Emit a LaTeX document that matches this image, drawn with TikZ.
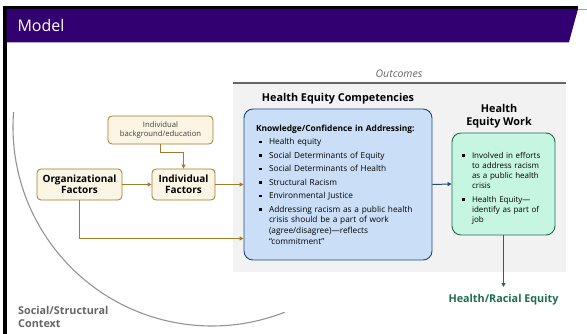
\documentclass[tikz,border=0pt]{standalone}
\usepackage{fontspec}
\setmainfont{Open Sans}
\usetikzlibrary{arrows.meta, positioning}
\definecolor{mdpurple}{HTML}{330072}
\definecolor{mdlilac}{HTML}{B9ADD4}
\definecolor{mdgold}{HTML}{A47B2C}
\definecolor{mdcream}{HTML}{FBF5E4}
\definecolor{mdblue}{HTML}{CADFF7}
\definecolor{mdnavy}{HTML}{1F4A80}
\definecolor{mdmint}{HTML}{C6F6E2}
\definecolor{mdgreen}{HTML}{1E6E4C}
\definecolor{mdgray}{HTML}{666666}
\definecolor{mdpanel}{HTML}{F2F2F2}

% square bullet with hanging indent
\newcommand{\sqitem}[1]{\par\hangindent=13pt\hangafter=1\noindent\makebox[13pt][l]{\hspace{3pt}\rule[1.5pt]{2.5pt}{2.5pt}}#1}

\begin{document}
\begin{tikzpicture}[
  x=1pt, y=-1pt,
  factor/.style={rectangle, rounded corners=4pt, draw=mdgold, fill=mdcream, line width=0.8pt, align=center, font=\bfseries\fontsize{10}{11.5}\selectfont},
  listbox/.style={rectangle, rounded corners=9pt, line width=0.9pt, align=left, inner ysep=4pt},
  title/.style={align=center, font=\bfseries\fontsize{10.8}{13}\selectfont},
  goldarrow/.style={draw=mdgold, line width=1pt, -{Triangle[length=4pt,width=4pt]}},
]
\useasboundingbox (0,0) rectangle (587,334);

% Slide frame and header bar
\fill[black] (3,6) rectangle (578,9);
\fill[black] (3,6) rectangle (6.5,334);
\draw[mdgray!60, line width=0.6pt] (578,9) -- (587,9);
\fill[mdpurple] (6.5,9) -- (578,9) -- (569,42) -- (6.5,42) -- cycle;
\draw[mdlilac, line width=0.6pt] (6.5,42) -- (569,42);
\node[anchor=west, text=white, font=\fontsize{16}{18}\selectfont] (hdr) at (14,25.5) {Model};

% Outcomes panel
\fill[mdpanel] (233,83) rectangle (566,272);
\draw[mdgray, line width=1.2pt] (233,83) -- (566,83);
\node[text=mdgray, font=\itshape\fontsize{10.5}{12}\selectfont] (outc) at (399,74) {Outcomes};

% Social/structural context
\draw[gray!85, line width=1.1pt] (212,127) ++(184.3:199) arc[start angle=184.3, end angle=68.6, radius=199];
\node[anchor=north west, align=left, text=mdgray, inner sep=0pt, font=\bfseries\fontsize{10.8}{13}\selectfont] (ctx) at (18,306.5) {Social/Structural\\Context};

% Factors
\node[factor, minimum width=105pt, minimum height=28pt, font=\fontsize{7.7}{9.5}\selectfont, text=black!75] (bg) at (160.5,130) {Individual\\background/education};
\node[factor, minimum width=85pt, minimum height=31pt] (org) at (79.5,184.5) {Organizational\\Factors};
\node[factor, minimum width=63pt, minimum height=31pt] (ind) at (183.5,184.5) {Individual\\Factors};

% Competencies and work
\node[title] (comptitle) at (338,99) {Health Equity Competencies};
\node[listbox, draw=mdnavy, fill=mdblue, text width=164pt, inner xsep=12pt, minimum height=151pt, font=\fontsize{8.3}{10.7}\selectfont] (comp) at (338,184.5) {\setlength{\parskip}{2.8pt}{\fontsize{8.4}{10.7}\bfseries\selectfont Knowledge/Confidence in Addressing:}
\sqitem{Health equity}
\sqitem{Social Determinants of Equity}
\sqitem{Social Determinants of Health}
\sqitem{Structural Racism}
\sqitem{Environmental Justice}
\sqitem{Addressing racism as a public health\newline crisis should be a part of work\newline (agree/disagree)---reflects\newline ``commitment''}\par};

\node[title] (worktitle) at (499,116.5) {Health\\Equity Work};
\node[listbox, draw=mdgreen, fill=mdmint, text width=89pt, inner xsep=7pt, minimum height=102pt, font=\fontsize{8}{10}\selectfont] (work) at (503.5,184) {\setlength{\parskip}{4pt}\sqitem{Involved in efforts\newline to address racism\newline as a public health\newline crisis}
\sqitem{Health Equity---\newline identify as part of\newline job}\par\vspace{3pt}};

\node[anchor=north, inner sep=2pt, text=mdgreen, font=\bfseries\fontsize{10.8}{12}\selectfont] (equity) at (503.5,292.5) {Health/Racial Equity};

% Connectors
\draw[goldarrow] (org.east) -- (ind.west);
\draw[goldarrow] (bg.south) -- ++(0,8) -| (ind.north);
\draw[goldarrow] (ind.east) -- (ind.east -| comp.west);
\draw[goldarrow] (org.south) |- ([yshift=22pt]comp.south west);
\draw[draw=mdnavy, line width=1pt, -{Triangle[length=4pt,width=4pt]}] (comp.east) -- (work.west);
\draw[draw=mdgreen, line width=1pt, -{Triangle[length=4pt,width=4pt]}] (work.south) -- ([yshift=5.5pt]equity.north);
\end{tikzpicture}
\end{document}
